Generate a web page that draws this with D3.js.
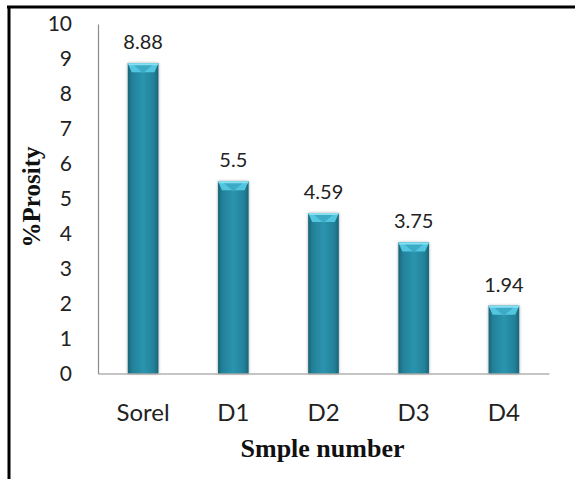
<!DOCTYPE html>
<html><head><meta charset="utf-8">
<script src="https://cdn.jsdelivr.net/npm/d3@7"></script>
<style>html,body{margin:0;padding:0;background:#fff;}svg{display:block;}</style>
</head><body>
<svg id="chart" width="575" height="479"></svg>
<script>
const categories = ["Sorel", "D1", "D2", "D3", "D4"];
const porosity = [8.88, 5.5, 4.59, 3.75, 1.94];
const valueLabels = ["8.88", "5.5", "4.59", "3.75", "1.94"];
const yTicks = [0,1,2,3,4,5,6,7,8,9,10];

(function(){
const svg = d3.select("#chart");
const W = 575, H = 479;
const mLeft = 98, mRight = 549, mTop = 24, mBottom = 373.5;
const sans = "Lato, 'Liberation Sans', sans-serif";
const serif = "'Liberation Serif', 'Times New Roman', serif";

// border (top and left only)
svg.append("line").attr("x1",7).attr("x2",W).attr("y1",7).attr("y2",7).attr("stroke","#000").attr("stroke-width",3);
svg.append("line").attr("x1",9).attr("x2",9).attr("y1",6).attr("y2",H).attr("stroke","#000").attr("stroke-width",3);

const x = d3.scaleBand().domain(categories).range([mLeft, mRight]).paddingInner(0.66).paddingOuter(0.33);
const y = d3.scaleLinear().domain([0,10]).range([mBottom, mTop]);

const defs = svg.append("defs");
const g = defs.append("linearGradient").attr("id","barGrad").attr("x1","0%").attr("x2","100%").attr("y1","0%").attr("y2","0%");
g.append("stop").attr("offset","0%").attr("stop-color","#1a6577");
g.append("stop").attr("offset","15%").attr("stop-color","#23819a");
g.append("stop").attr("offset","50%").attr("stop-color","#2b94ae");
g.append("stop").attr("offset","85%").attr("stop-color","#23819a");
g.append("stop").attr("offset","100%").attr("stop-color","#1a6577");
const sh = defs.append("filter").attr("id","shadow").attr("x","-30%").attr("y","-10%").attr("width","160%").attr("height","120%");
sh.append("feDropShadow").attr("dx",0).attr("dy",0).attr("stdDeviation",1.5).attr("flood-color","#000").attr("flood-opacity",0.35);

// y axis
const yAxis = d3.axisLeft(y).tickValues(yTicks).tickSize(0).tickPadding(0).tickFormat(d3.format("d"));
const ya = svg.append("g").attr("transform",`translate(${mLeft},0)`).call(yAxis);
ya.select(".domain").attr("stroke","#8c8c8c").attr("stroke-width",1.2);
ya.selectAll("text").attr("x",-26).attr("font-family",sans).attr("font-size",21).attr("fill","#222");

// bars
const bars = svg.append("g");
categories.forEach((c,i)=>{
  const bx = x(c), bw = x.bandwidth(), by = y(porosity[i]), bh = mBottom - y(porosity[i]);
  const gg = bars.append("g");
  gg.append("rect").attr("x",bx).attr("y",by).attr("width",bw).attr("height",bh)
    .attr("fill","url(#barGrad)").attr("filter","url(#shadow)");
  gg.append("path").attr("d",`M${bx},${by} L${bx+bw},${by} L${bx+bw-4},${by+9} L${bx+4},${by+9} Z`).attr("fill","#52c6e0");
  gg.append("path").attr("d",`M${bx+5},${by+1} L${bx+bw-5},${by+1} L${bx+bw/2},${by+10} Z`).attr("fill","#3aa6c0").attr("opacity",0.85);
  gg.append("path").attr("d",`M${bx},${by} L${bx+bw},${by} L${bx+bw-1},${by+2} L${bx+1},${by+2} Z`).attr("fill","#86e0f2");
  svg.append("text").attr("x",bx+bw/2).attr("y",by-14).attr("text-anchor","middle")
    .attr("font-family",sans).attr("font-size",20).attr("fill","#222").text(valueLabels[i]);
});

// x axis
const xAxis = d3.axisBottom(x).tickSize(0).tickPadding(0);
const xa = svg.append("g").attr("transform",`translate(0,${mBottom})`).call(xAxis);
xa.select(".domain").attr("stroke","#8c8c8c").attr("stroke-width",1.2);
xa.selectAll("text").attr("y",47).attr("dy",0).attr("font-family",sans).attr("font-size",24).attr("fill","#222");

// axis titles
svg.append("text").attr("x",(mLeft+mRight)/2 - 1).attr("y",457).attr("text-anchor","middle")
  .attr("font-family",serif).attr("font-weight","bold").attr("font-size",26).attr("fill","#111").text("Smple number");
svg.append("text").attr("transform",`translate(40,197) rotate(-90)`).attr("text-anchor","middle")
  .attr("font-family",serif).attr("font-weight","bold").attr("font-size",25).attr("fill","#111").text("%Prosity");
})();
</script>
</body></html>
